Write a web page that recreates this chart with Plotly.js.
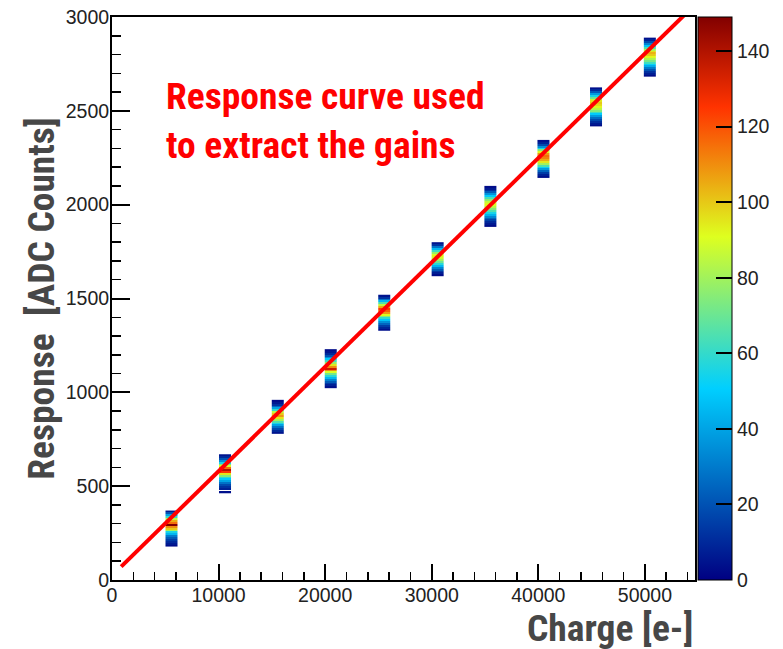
<!DOCTYPE html>
<html>
<head>
<meta charset="utf-8">
<script src="https://cdn.plot.ly/plotly-3.0.1.min.js"></script>
<style>html,body{margin:0;padding:0;background:#fff;}#chart{width:783px;height:649px;}</style>
</head>
<body>
<div id="chart"></div>
<script>
// ---- data ----
const chargeCenter = [5590, 10610, 15560, 20530, 25550, 30560, 35510, 40490, 45420, 50470]; // e-
const chargeBinWidth = 1140;
const adcStart = [180, 460, 780, 1020, 1330, 1620, 1880, 2145, 2415, 2680]; // lower edge of first ADC bin
const adcBinWidth = 10;
const counts1  = [3,6,10,15,22,30,45,55,80,100,110,149,115,105,85,60,40,20,6];
const counts2  = [4,null,8,12,18,28,40,50,60,75,95,125,140,115,90,75,55,35,20,10,5];
const counts3  = [5,10,18,28,40,55,65,80,95,108,100,85,60,40,25,12,6,3];
const counts4  = [4,8,14,22,32,45,58,72,90,110,135,110,95,78,62,50,35,20,10,5,3];
const counts5  = [4,9,15,25,35,48,60,75,92,108,118,125,105,85,65,45,28,12,5];
const counts6  = [3,7,13,22,32,45,58,70,80,88,93,90,78,62,45,28,12,5];
const counts7  = [3,6,10,16,24,33,44,55,65,75,84,90,92,86,76,64,50,36,22,12,6,3];
const counts8  = [4,8,15,25,38,52,65,80,95,105,112,115,108,92,75,55,35,18,8,4];
const counts9  = [3,6,11,18,27,38,50,62,74,84,92,97,100,95,85,70,55,38,22,10,4];
const counts10 = [3,7,12,20,30,42,52,62,72,82,92,100,104,96,82,65,48,32,18,8,4];
const allCounts = [counts1,counts2,counts3,counts4,counts5,counts6,counts7,counts8,counts9,counts10];
// linear fit: response = p0 + p1 * charge
const fitP0 = 23.3;
const fitP1 = 0.05563;
const fitRange = [860, 55000];
const colorMax = 149;
const colorTicks = [0, 20, 40, 60, 80, 100, 120, 140];

const titleFont = "'Roboto Condensed', 'Liberation Sans Narrow', sans-serif";
const tickFont = {family: "'Liberation Sans', Arial, sans-serif", size: 19.5, color: '#222'};

const traces = allCounts.map((c, i) => {
  const yEdges = [];
  for (let k = 0; k <= c.length; k++) yEdges.push(adcStart[i] + k * adcBinWidth);
  return {
    type: 'heatmap',
    x: [chargeCenter[i] - chargeBinWidth / 2, chargeCenter[i] + chargeBinWidth / 2],
    y: yEdges,
    z: c.map(v => [v]),
    coloraxis: 'coloraxis',
    zsmooth: false
  };
});

traces.push({
  type: 'scatter',
  mode: 'lines',
  x: fitRange,
  y: fitRange.map(q => fitP0 + fitP1 * q),
  line: {color: 'rgb(255,0,0)', width: 4}
});

const plotL = 112, plotR = 695, plotT = 17, plotB = 580;
const pw = plotR - plotL, ph = plotB - plotT;

const layout = {
  width: 783, height: 649,
  margin: {l: plotL, r: 783 - plotR, t: plotT, b: 649 - plotB, pad: 0, autoexpand: false},
  paper_bgcolor: '#fff', plot_bgcolor: '#fff',
  showlegend: false,
  xaxis: {
    range: [0, 54700], dtick: 10000, tick0: 0, tickformat: 'd',
    ticks: 'inside', ticklen: 16, tickwidth: 2, tickcolor: '#000',
    minor: {dtick: 2000, ticks: 'inside', ticklen: 8, tickwidth: 1.5, tickcolor: '#000', showgrid: false},
    showline: true, linewidth: 2, linecolor: '#000', mirror: true,
    showgrid: false, zeroline: false,
    tickfont: tickFont, ticklabelstandoff: -3
  },
  yaxis: {
    range: [0, 3000], dtick: 500, tick0: 0, tickformat: 'd',
    ticks: 'inside', ticklen: 18, tickwidth: 2, tickcolor: '#000',
    minor: {dtick: 100, ticks: 'inside', ticklen: 9, tickwidth: 1.5, tickcolor: '#000', showgrid: false},
    showline: true, linewidth: 2, linecolor: '#000', mirror: true,
    showgrid: false, zeroline: false,
    tickfont: tickFont, ticklabelstandoff: -3,
    title: {text: 'Response\u00a0 [ADC Counts]', font: {family: titleFont, size: 37.5, color: '#474747', weight: 'bold'}, standoff: 0}
  },
  coloraxis: {
    cmin: 0, cmax: colorMax,
    colorscale: [[0, 'rgb(0,0,130)'], [0.34, 'rgb(0,207,255)'], [0.61, 'rgb(222,255,31)'], [0.84, 'rgb(255,51,0)'], [1, 'rgb(130,0,0)']],
    colorbar: {
      x: (698 - plotL) / pw, xanchor: 'left', xpad: 0, ypad: 0,
      y: 0, yanchor: 'bottom', len: 1, lenmode: 'fraction',
      thickness: 34, thicknessmode: 'pixels',
      outlinewidth: 1, outlinecolor: '#000',
      tickmode: 'array', tickvals: colorTicks,
      ticks: 'inside', ticklen: 16, tickwidth: 2, tickcolor: '#000',
      tickfont: tickFont
    }
  },
  annotations: [
    {
      text: 'Response curve used<br>to extract the gains',
      xref: 'paper', yref: 'paper',
      x: (164 - plotL) / pw, y: (plotB - 72) / ph,
      xanchor: 'left', yanchor: 'top', align: 'left', showarrow: false,
      font: {family: titleFont, size: 37.5, color: 'rgb(255,0,0)', weight: 'bold'}
    },
    {
      text: 'Charge [e-]',
      xref: 'paper', yref: 'paper',
      x: 1, y: (plotB - 628) / ph,
      xanchor: 'right', yanchor: 'middle', showarrow: false,
      font: {family: titleFont, size: 37.5, color: '#474747', weight: 'bold'}
    }
  ]
};

Plotly.newPlot('chart', traces, layout, {staticPlot: true, displayModeBar: false});
</script>
</body>
</html>
